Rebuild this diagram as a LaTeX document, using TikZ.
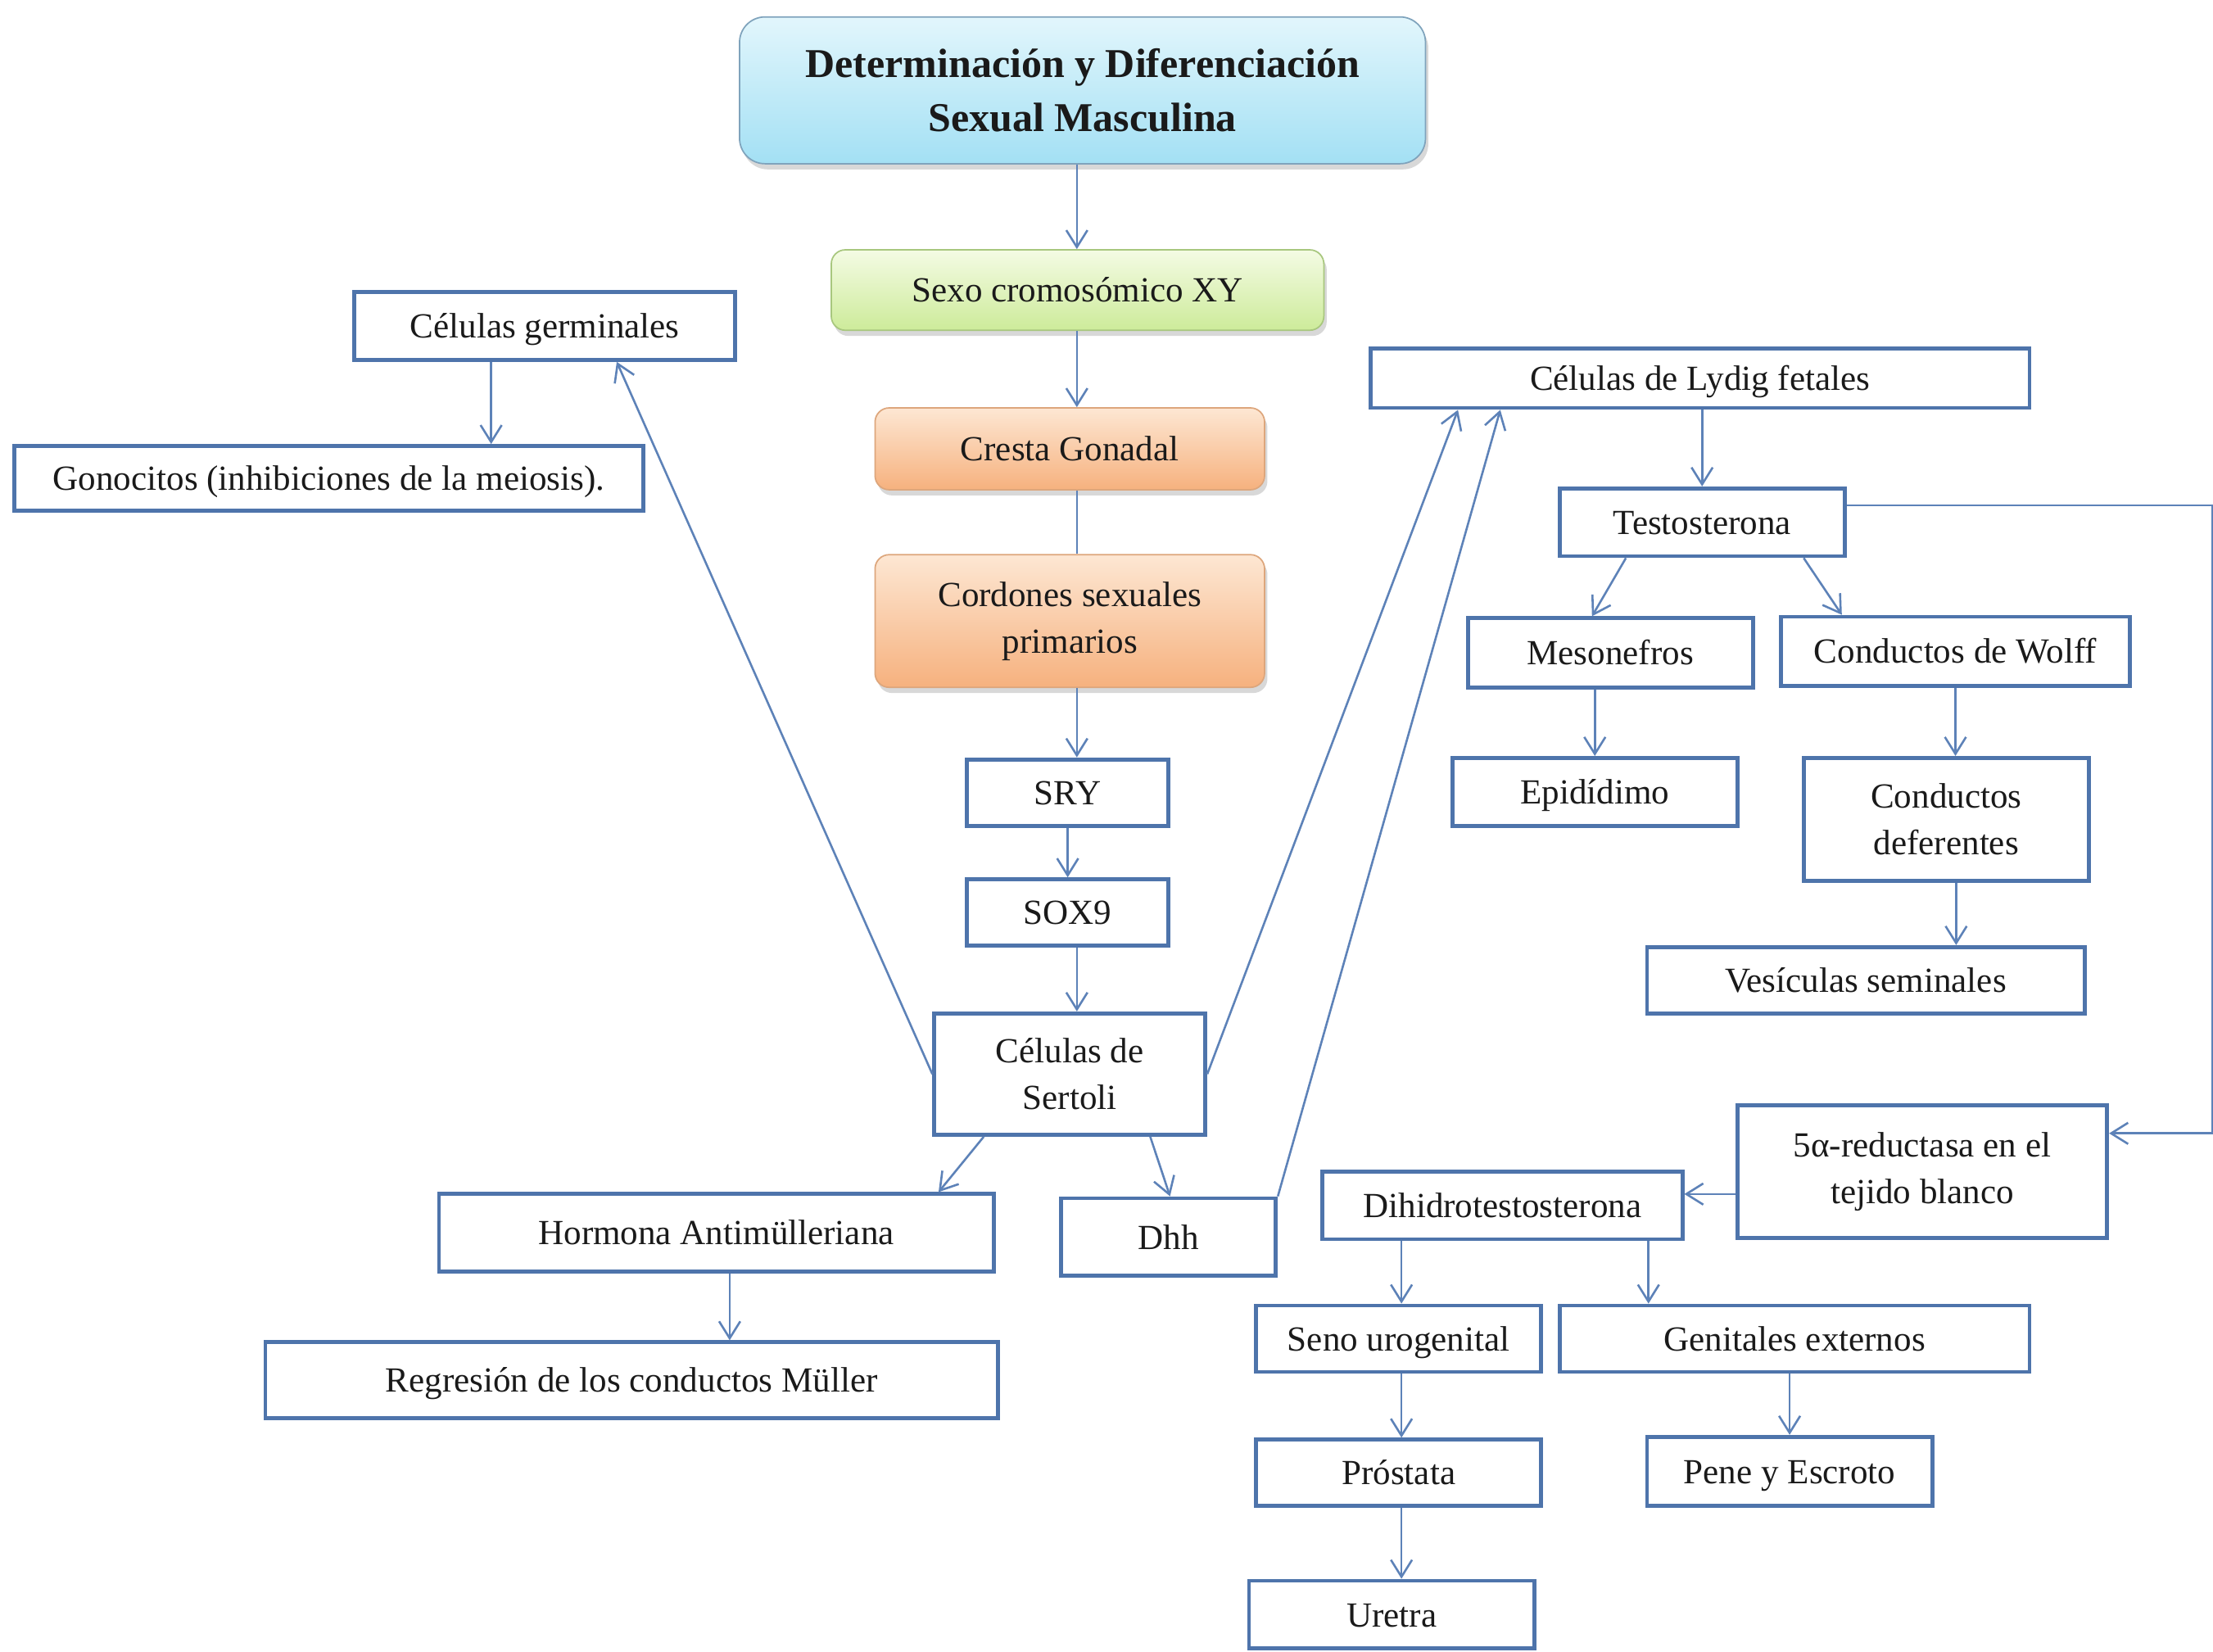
\documentclass[tikz,border=0pt]{standalone}
\usepackage{fontspec}
\setmainfont{Liberation Serif}
\usetikzlibrary{arrows.meta,shadows,calc}
\definecolor{boxblue}{HTML}{4E74AB}
\definecolor{linkblue}{HTML}{5D82B8}
\definecolor{txt}{HTML}{1A1A1A}
\begin{document}
\begin{tikzpicture}[x=1pt,y=-1pt,
  base/.style={text=txt,font=\fontsize{25}{33}\selectfont,align=center,inner sep=0pt},
  box/.style={base,draw=boxblue,line width=2.8pt,fill=white},
  one/.style={text height=21pt,text depth=4pt},
  soft/.style={base,rounded corners=10pt,line width=1pt,
     drop shadow={shadow xshift=2pt,shadow yshift=-4pt,opacity=0.25,fill=black!60}},
  titlebox/.style={soft,rounded corners=18pt,draw=HTMLtitle,top color=HTMLtitletop,bottom color=HTMLtitlebot,
     font=\bfseries\fontsize{29}{38}\selectfont},
  greenbox/.style={soft,draw=HTMLgreen,top color=HTMLgreentop,bottom color=HTMLgreenbot},
  orangebox/.style={soft,draw=HTMLorange,top color=HTMLorangetop,bottom color=HTMLorangebot},
  arr/.style={draw=linkblue,line width=1.5pt,-{Straight Barb[length=12pt,width=15pt,line width=1.5pt]}},
  ln/.style={draw=linkblue,line width=1.5pt}
]
\definecolor{HTMLtitle}{HTML}{7FA3BC}
\definecolor{HTMLtitletop}{HTML}{E2F6FC}
\definecolor{HTMLtitlebot}{HTML}{A3E0F4}
\definecolor{HTMLgreen}{HTML}{A8C77E}
\definecolor{HTMLgreentop}{HTML}{F4FBE4}
\definecolor{HTMLgreenbot}{HTML}{CDEB9A}
\definecolor{HTMLorange}{HTML}{DDA67C}
\definecolor{HTMLorangetop}{HTML}{FDE7D3}
\definecolor{HTMLorangebot}{HTML}{F6B17E}
\fill[white] (0,0) rectangle (1568,1170);
\useasboundingbox (0,0) rectangle (1568,1170);
\coordinate (spine) at (763,0);

% center column
\node[titlebox,minimum width=486pt,minimum height=104pt] (title) at (767,64) {Determinación y Diferenciación\\Sexual Masculina};
\node[greenbox,one,minimum width=349pt,minimum height=57pt] (sexo) at (763.5,205.5) {Sexo cromosómico XY};
\node[orangebox,one,minimum width=276pt,minimum height=58pt] (cresta) at (758,318) {Cresta Gonadal};
\node[orangebox,minimum width=276pt,minimum height=94pt] (cordones) at (758,440) {Cordones sexuales\\primarios};
\node[box,one,minimum width=143pt,minimum height=47pt] (sry) at (756.5,561.5) {SRY};
\node[box,one,minimum width=143pt,minimum height=47pt] (sox) at (756.5,646.5) {SOX9};
\node[box,minimum width=192pt,minimum height=86pt] (sertoli) at (758,761) {Células de\\Sertoli};

% left
\node[box,one,minimum width=270pt,minimum height=48pt] (germ) at (386,231) {Células germinales};
\node[box,one,minimum width=446pt,minimum height=46pt] (gono) at (233,339) {Gonocitos (inhibiciones de la meiosis).};
\node[box,one,minimum width=393pt,minimum height=55pt] (horm) at (507.5,873.5) {Hormona Antimülleriana};
\node[box,one,minimum width=519pt,minimum height=54pt] (regr) at (447.5,978) {Regresión de los conductos Müller};
\node[box,one,minimum width=152pt,minimum height=55pt] (dhh) at (828,876.5) {Dhh};

% right
\node[box,one,minimum width=467pt,minimum height=42pt] (leydig) at (1204.5,268) {Células de Lydig fetales};
\node[box,one,minimum width=202pt,minimum height=48pt] (testo) at (1206,370) {Testosterona};
\node[box,one,minimum width=202pt,minimum height=49pt] (meso) at (1141,462.5) {Mesonefros};
\node[box,one,minimum width=247pt,minimum height=49pt] (wolff) at (1385.5,461.5) {Conductos de Wolff};
\node[box,one,minimum width=202pt,minimum height=48pt] (epid) at (1130,561) {Epidídimo};
\node[box,minimum width=202pt,minimum height=87pt] (defer) at (1379,580.5) {Conductos\\deferentes};
\node[box,one,minimum width=310pt,minimum height=47pt] (vesic) at (1322,694.5) {Vesículas seminales};
\node[box,minimum width=262pt,minimum height=94pt] (red) at (1362,830) {5α-reductasa en el\\tejido blanco};
\node[box,one,minimum width=255pt,minimum height=48pt] (dht) at (1064.5,854) {Dihidrotestosterona};
\node[box,one,minimum width=202pt,minimum height=47pt] (seno) at (991,948.5) {Seno urogenital};
\node[box,one,minimum width=333pt,minimum height=47pt] (genit) at (1271.5,948.5) {Genitales externos};
\node[box,one,minimum width=202pt,minimum height=47pt] (prost) at (991,1043.5) {Próstata};
\node[box,one,minimum width=202pt,minimum height=49pt] (pene) at (1268,1042.5) {Pene y Escroto};
\node[box,one,minimum width=202pt,minimum height=48pt] (uretra) at (986,1144) {Uretra};

% connectors, center
\draw[arr] (title.south -| spine) -- (sexo.north -| spine);
\draw[arr] (sexo.south -| spine) -- (cresta.north -| spine);
\draw[ln] (cresta.south -| spine) -- (cordones.north -| spine);
\draw[arr] (cordones.south -| spine) -- (sry.north -| spine);
\draw[arr] (sry.south) -- (sox.north);
\draw[arr] (sox.south -| spine) -- (sertoli.north -| spine);

% left connectors
\draw[arr] (sertoli.west) -- ([xshift=51pt]germ.south);
\draw[arr] ([xshift=-38pt]germ.south) -- ([xshift=115pt]gono.north);
\draw[arr] ([xshift=-61pt]sertoli.south) -- ([xshift=157.5pt]horm.north);
\draw[arr] ([xshift=57pt]sertoli.south) -- ([xshift=1pt]dhh.north);
\draw[arr] ([xshift=9.5pt]horm.south) -- ([xshift=69.5pt]regr.north);

% right connectors
\draw[arr] (sertoli.east) -- ([xshift=-171.5pt]leydig.south);
\draw[arr] (dhh.north east) -- ([xshift=-141.5pt]leydig.south);
\draw[arr] (leydig.south -| testo.north) -- (testo.north);
\draw[arr] ([xshift=-54pt]testo.south) -- ([xshift=-13pt]meso.north);
\draw[arr] ([xshift=72pt]testo.south) -- ([xshift=-80.5pt]wolff.north);
\draw[arr] (meso.south -| epid.north) -- (epid.north);
\draw[arr] (wolff.south) -- (wolff.south |- defer.north);
\coordinate (dfs) at ([xshift=7pt]defer.south);
\draw[arr] (dfs) -- (dfs |- vesic.north);
\draw[arr] ([yshift=12pt]testo.east) -- ++(259,0) |- ([yshift=27pt]red.east);
\coordinate (dhtin) at ([yshift=8pt]dht.east);
\draw[arr] (dhtin -| red.west) -- (dhtin);
\coordinate (dhs1) at ([xshift=-71.5pt]dht.south);
\coordinate (dhs2) at ([xshift=103.5pt]dht.south);
\draw[arr] (dhs1) -- (dhs1 |- seno.north);
\draw[arr] (dhs2) -- (dhs2 |- genit.north);
\coordinate (sns) at ([xshift=2pt]seno.south);
\draw[arr] (sns) -- (sns |- prost.north);
\draw[arr] (pene.north |- genit.south) -- (pene.north);
\draw[arr] (sns |- prost.south) -- (sns |- uretra.north);
\end{tikzpicture}
\end{document}
